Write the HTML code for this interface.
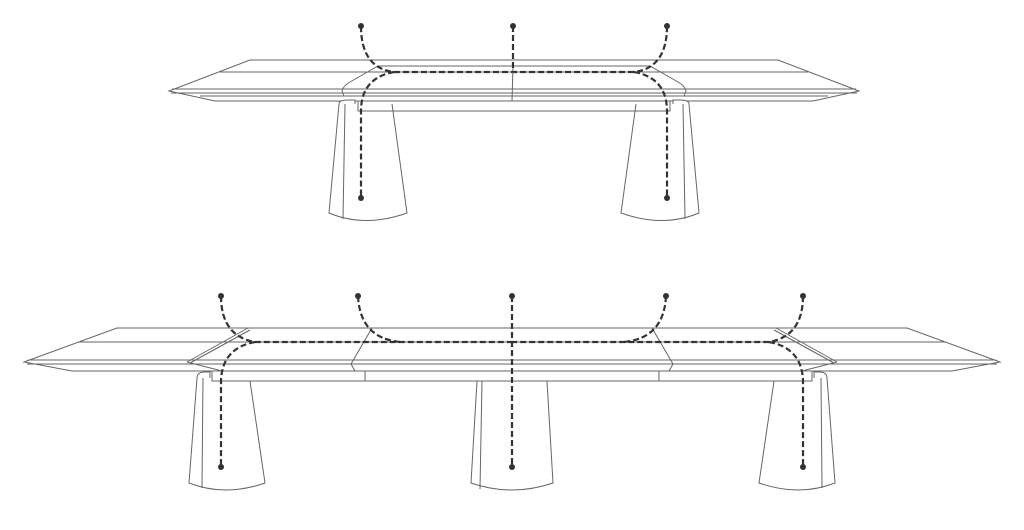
<!DOCTYPE html>
<html><head><style>html,body{margin:0;padding:0;background:#fff;width:1024px;height:530px;overflow:hidden}</style></head>
<body>
<svg width="1024" height="530" viewBox="0 0 1024 530" xmlns="http://www.w3.org/2000/svg">
<defs>
<g id="halfT" fill="none" stroke="#666" stroke-width="1">
  <path d="M514 60 L250 60 L169 91 L215 101 L514 101"/>
  <path d="M514 72 L220 72"/>
  <path d="M172 89 L514 89 M171 93 L514 93 M200 96 L514 96"/>
  <path d="M358 101 L358 111 L514 111"/>
  <path d="M342 91 Q343 86 350 82 L378 66 L514 66"/>
  <path d="M342 91 L344 96"/>
  <path d="M339 104 Q339 100 348 100 L355 100 L355 104" fill="#fff"/>
  <path d="M339 104 L329 213 Q365 228 407 213 L392 104"/>
  <path d="M345 104 L343 219"/>
  <path d="M366 72 L392 72"/>
</g>
<g id="dashT" fill="none" stroke="#333" stroke-width="2.2" stroke-dasharray="6,3">
  <path d="M361 26 Q361 68 394 72 L514 72"/>
  <path d="M394 72 Q361 78 361 111 L361 198"/>
</g>
<g id="halfB" fill="none" stroke="#666" stroke-width="1">
  <path d="M512 328 L117 328 L24 362 L72 371 L512 371"/>
  <path d="M512 342 L79 342"/>
  <path d="M28 360 L512 360 M27 364 L512 364"/>
  <path d="M212 371 L212 381 L512 381"/>
  <path d="M187 362 L248 328 M190 363 L250 330"/>
  <path d="M187 362 L222 371"/>
  <path d="M351 364 L372 328 M351 364 L355 371"/>
  <path d="M365 371 L365 381"/>
  <path d="M197 378 Q197 372 205 372 L210 372 L210 378" fill="#fff"/>
  <path d="M197 378 L189 483 Q225 497 265 483 L250 381"/>
  <path d="M203 378 L202 488"/>
</g>
<g id="dashB" fill="none" stroke="#333" stroke-width="2.2" stroke-dasharray="6,3">
  <path d="M221 296 Q221 336 255 342 L512 342"/>
  <path d="M255 342 Q222 348 221 381 L221 467"/>
  <path d="M358 296 Q360 338 400 342"/>
</g>
</defs>
<use href="#halfT"/><use href="#halfT" transform="translate(1028 0) scale(-1 1)"/>
<use href="#dashT"/><use href="#dashT" transform="translate(1028 0) scale(-1 1)"/>
<use href="#halfB"/><use href="#halfB" transform="translate(1024 0) scale(-1 1)"/>
<use href="#dashB"/><use href="#dashB" transform="translate(1024 0) scale(-1 1)"/>
<path d="M513 66 L512 101" stroke="#666" fill="none"/>
<path d="M477 381 L471 483 Q512 497 553 483 L547 381" stroke="#666" fill="none"/>
<path d="M482 381 L480 489" stroke="#666" fill="none"/>
<path d="M513 26 L513 72" stroke="#333" stroke-width="2.2" stroke-dasharray="6,3" fill="none"/>
<path d="M512 296 L512 467" stroke="#333" stroke-width="2.2" stroke-dasharray="6,3" fill="none"/>
<g fill="#333">
<circle cx="361" cy="26" r="3"/><circle cx="513" cy="26" r="3"/><circle cx="667" cy="26" r="3"/>
<circle cx="361" cy="198" r="3"/><circle cx="667" cy="198" r="3"/>
<circle cx="221" cy="296" r="3"/><circle cx="358" cy="296" r="3"/><circle cx="512" cy="296" r="3"/><circle cx="666" cy="296" r="3"/><circle cx="803" cy="296" r="3"/>
<circle cx="221" cy="467" r="3"/><circle cx="512" cy="467" r="3"/><circle cx="803" cy="467" r="3"/>
</g>
</svg>
</body></html>
